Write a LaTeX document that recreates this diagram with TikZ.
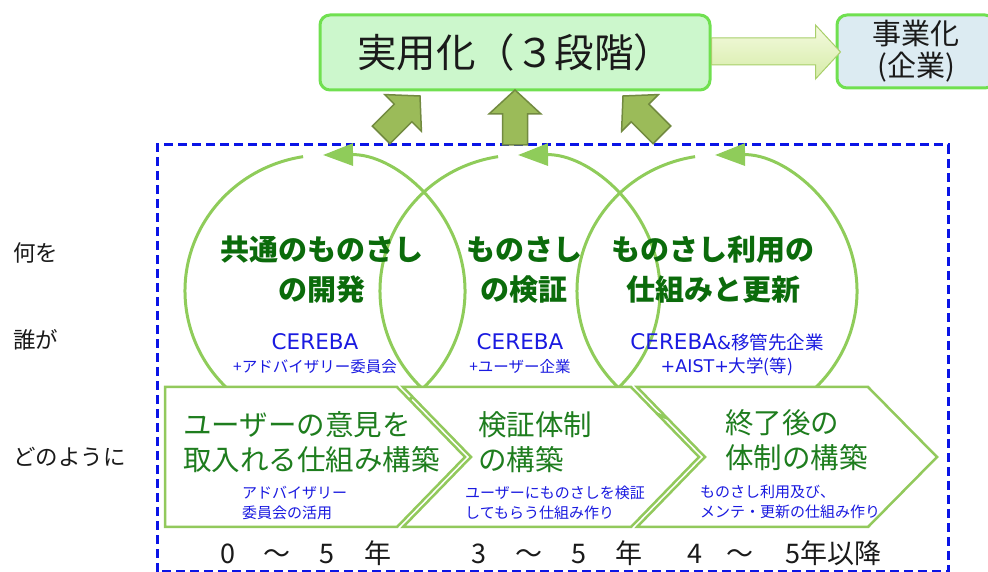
\documentclass[tikz,border=0pt]{standalone}
\usepackage{fontspec}
\setmainfont{Noto Sans CJK JP}
\newfontfamily\dvfont{DejaVu Sans}
\usetikzlibrary{arrows.meta,calc}
\definecolor{circG}{HTML}{8FCC5A}
\definecolor{chevG}{HTML}{92C95C}
\definecolor{boldG}{HTML}{0B6B0B}
\definecolor{chevT}{HTML}{1E7D1E}
\definecolor{blueT}{HTML}{1A1AE0}
\definecolor{dashB}{HTML}{0A14E6}
\definecolor{mainF}{HTML}{CCF7CC}
\definecolor{mainD}{HTML}{70E050}
\definecolor{bizF}{HTML}{DCEBF2}
\definecolor{oliveF}{HTML}{9BBB59}
\definecolor{oliveD}{HTML}{728A40}
\definecolor{arrTop}{HTML}{F4FADF}
\definecolor{arrBot}{HTML}{D6ECA8}
\definecolor{arrD}{HTML}{A8CF6A}
\definecolor{labK}{HTML}{1A1A1A}
\newcommand\myfs[2]{\fontsize{#1}{#2}\selectfont}
\begin{document}
\begin{tikzpicture}[x=1pt,y=1pt,
  circ/.style={draw=circG, line width=3pt},
  chev/.style={draw=chevG, line width=2.5pt, fill=white, line join=miter},
  olive/.style={fill=oliveF, draw=oliveD, line width=1.5pt, line join=miter},
  boldtxt/.style={text=boldG, align=center, inner sep=0pt, font=\myfs{29}{40}\bfseries},
  whotxt/.style={text=blueT, inner sep=0pt},
  chevtxt/.style={text=chevT, align=left, inner sep=0pt, anchor=west, font=\myfs{28.5}{35}},
  smalltxt/.style={text=blueT, align=left, inner sep=0pt, anchor=west, font=\myfs{15}{20}},
  sidetxt/.style={text=labK, anchor=west, inner sep=0pt, font=\myfs{22.5}{26}},
  yeartxt/.style={text=labK, inner sep=0pt, font=\myfs{27}{30}},
  uparrow/.pic={\draw[olive] (0,0) -- (26,-24) -- (12.5,-24) -- (12.5,-55) -- (-12.5,-55) -- (-12.5,-24) -- (-26,-24) -- cycle;}
]
\useasboundingbox (0,0) rectangle (988,572);

% dashed frame
\draw[dashB, line width=3pt, dash pattern=on 9pt off 5pt] (157,0) rectangle (948,427);

% circular arrows
\foreach \cx in {325,520,717}{
  \draw[circ, -{Triangle[length=30pt,width=22pt]}]
    (\cx,281) ++(99:140 and 136) arc[start angle=99, end angle=450.8, x radius=140, y radius=136];
}

% chevrons
\draw[chev] (165,185) -- (397,185) -- (465,115) -- (397,45) -- (165,45) -- cycle;
\draw[chev] (403,185) -- (631,185) -- (699,115) -- (631,45) -- (403,45) -- (471,115) -- cycle;
\draw[chev] (637,185) -- (868,185) -- (937,115) -- (868,45) -- (637,45) -- (705,115) -- cycle;

% circle texts (what)
\node[boldtxt] (what1) at (322,302) {共通のものさし\\の開発};
\node[boldtxt] (what2) at (524,302) {ものさし\\の検証};
\node[boldtxt] (what3) at (713,302) {ものさし利用の\\仕組みと更新};

% circle texts (who)
\node[whotxt, font=\dvfont\myfs{21.5}{24}] (who1a) at (315,230) {CEREBA};
\node[whotxt, font=\myfs{15.5}{18}] (who1b) at (315,205) {+アドバイザリー委員会};
\node[whotxt, font=\dvfont\myfs{21.5}{24}] (who2a) at (520,230) {CEREBA};
\node[whotxt, font=\myfs{15.5}{18}] (who2b) at (520,205) {+ユーザー企業};
\node[whotxt, font=\myfs{18.5}{24}] (who3a) at (727,230) {{\dvfont\myfs{21.5}{24}CEREBA\myfs{18}{24}\&}移管先企業};
\node[whotxt, font=\myfs{17.5}{18}] (who3b) at (727,205) {{\dvfont +AIST+}大学(等)};

% chevron texts (how)
\node[chevtxt] (how1) at (183,129.5) {ユーザーの意見を\\取入れる仕組み構築};
\node[smalltxt] (how1s) at (242,69) {アドバイザリー\\委員会の活用};
\node[chevtxt] (how2) at (478,129.5) {検証体制\\の構築};
\node[smalltxt] (how2s) at (465,69) {ユーザーにものさしを検証\\してもらう仕組み作り};
\node[chevtxt] (how3) at (725,132) {終了後の\\体制の構築};
\node[smalltxt] (how3s) at (700,70) {ものさし利用及び、\\メンテ・更新の仕組み作り};

% side labels
\node[sidetxt] (lab1) at (13,319) {何を};
\node[sidetxt] (lab2) at (13,232) {誰が};
\node[sidetxt] (lab3) at (13,115) {どのように};

% years
\node[yeartxt] (yr1) at (302.5,19) {\makebox[50pt]{0}\makebox[50pt]{～}\makebox[50pt]{5}\makebox[50pt]{年}};
\node[yeartxt] (yr2) at (554,19) {\makebox[50pt]{3}\makebox[50pt]{～}\makebox[50pt]{5}\makebox[50pt]{年}};
\node[yeartxt, anchor=west] (yr3) at (672.5,19) {\makebox[45pt]{4}\makebox[45pt]{～}\hspace{23pt}5年以降};

% top boxes
\node[draw=mainD, fill=mainF, line width=3pt, rounded corners=10pt,
      minimum width=390pt, minimum height=75pt, inner sep=0pt,
      font=\myfs{39.5}{42}, text=labK] (main) at (515,519.5) {実用化（３段階）};
\node[draw=mainD, fill=bizF, line width=3pt, rounded corners=10pt,
      minimum width=158pt, minimum height=73pt, inner sep=0pt, align=center,
      font=\myfs{29}{32}, text=labK] (biz) at (916,520.5) {事業化\\(企業)};

% block arrow main -> biz
\draw[draw=arrD, line width=1pt, top color=arrTop, bottom color=arrBot, line join=miter]
  ($(main.east)+(0,14.5)$) -- ($(biz.west)+(-20,13.5)$) -- ($(biz.west)+(-20,26.5)$)
  -- ($(biz.west)+(5,-0.5)$) -- ($(biz.west)+(-20,-27.5)$) -- ($(biz.west)+(-20,-13.5)$)
  -- ($(main.east)+(0,-12.5)$) -- cycle;

% olive arrows up to main
\pic[rotate=-45] at (420,476) {uparrow};
\pic at (515,482) {uparrow};
\pic[rotate=45] at (623,476) {uparrow};
\end{tikzpicture}
\end{document}
